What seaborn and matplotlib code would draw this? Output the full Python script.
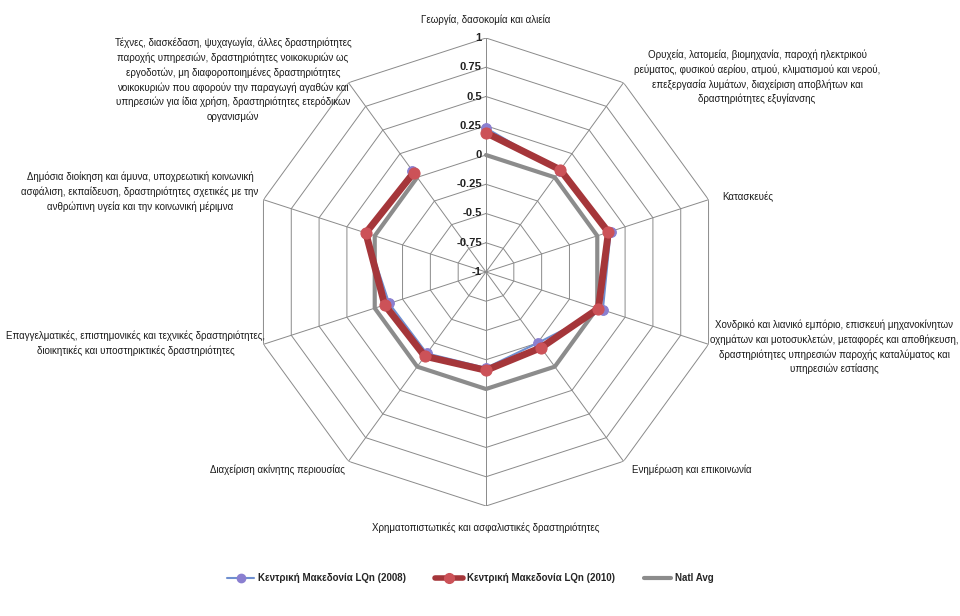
import numpy as np
import pandas as pd
import matplotlib
matplotlib.use('Agg')
import matplotlib.pyplot as plt
from matplotlib.lines import Line2D
import seaborn as sns

# κατηγορίες (ετικέτες των αξόνων) με τη σειρά του ρολογιού, από πάνω
categories = [
    'Γεωργία, δασοκομία και αλιεία',
    'Ορυχεία, λατομεία, βιομηχανία, παροχή ηλεκτρικού\nρεύματος, φυσικού αερίου, ατμού, κλιματισμού και νερού,\nεπεξεργασία λυμάτων, διαχείριση αποβλήτων και\nδραστηριότητες εξυγίανσης',
    'Κατασκευές',
    'Χονδρικό και λιανικό εμπόριο, επισκευή μηχανοκίνητων\nοχημάτων και μοτοσυκλετών, μεταφορές και αποθήκευση,\nδραστηριότητες υπηρεσιών παροχής καταλύματος και\nυπηρεσιών εστίασης',
    'Ενημέρωση και επικοινωνία',
    'Χρηματοπιστωτικές και ασφαλιστικές δραστηριότητες',
    'Διαχείριση ακίνητης περιουσίας',
    'Επαγγελματικές, επιστημονικές και τεχνικές δραστηριότητες,\nδιοικητικές και υποστηρικτικές δραστηριότητες',
    'Δημόσια διοίκηση και άμυνα, υποχρεωτική κοινωνική\nασφάλιση, εκπαίδευση, δραστηριότητες σχετικές με την\nανθρώπινη υγεία και την κοινωνική μέριμνα',
    'Τέχνες, διασκέδαση, ψυχαγωγία, άλλες δραστηριότητες\nπαροχής υπηρεσιών, δραστηριότητες νοικοκυριών ως\nεργοδοτών, μη διαφοροποιημένες δραστηριότητες\nνοικοκυριών που αφορούν την παραγωγή αγαθών και\nυπηρεσιών για ίδια χρήση, δραστηριότητες ετερόδικων\nοργανισμών',
]
lq_2008 = [0.23, 0.07, 0.12, 0.05, -0.25, -0.18, -0.14, -0.13, 0.08, 0.07]
lq_2010 = [0.19, 0.08, 0.10, 0.01, -0.20, -0.16, -0.11, -0.09, 0.08, 0.05]
natl_avg = [0, 0, 0, 0, 0, 0, 0, 0, 0, 0]
r_ticks = [-1, -0.75, -0.5, -0.25, 0, 0.25, 0.5, 0.75, 1]
series_names = ['Κεντρική Μακεδονία LQn (2008)', 'Κεντρική Μακεδονία LQn (2010)', 'Natl Avg']

sns.set_style('white')
plt.rcParams['font.family'] = ['Liberation Sans', 'DejaVu Sans']

n = len(categories)
theta = np.linspace(0, 2 * np.pi, n, endpoint=False)
theta_c = np.append(theta, theta[0])

# πίνακας για το seaborn (κλειστό πολύγωνο)
rows = []
for name, vals in zip(series_names, [lq_2008, lq_2010, natl_avg]):
    for t, v in zip(theta_c, vals + vals[:1]):
        rows.append({'theta': t, 'value': v, 'series': name})
df = pd.DataFrame(rows)

W, H = 960, 616
fig = plt.figure(figsize=(9.6, 6.16), dpi=100)
cx, cy, rad = 486, 272, 234
ax = fig.add_axes([(cx - rad) / W, 1 - (cy + rad) / H, 2 * rad / W, 2 * rad / H], polar=True)
ax.set_theta_zero_location('N')
ax.set_theta_direction(-1)
ax.set_ylim(-1, 1)
ax.grid(False)
ax.spines['polar'].set_visible(False)
ax.set_xticks([])
ax.set_yticks([])

# πολυγωνικό πλέγμα
grid_col = '#8a8a8a'
for r in r_ticks:
    ax.plot(theta_c, [r] * (n + 1), color=grid_col, lw=0.7, zorder=1)
for t in theta:
    ax.plot([t, t], [-1, 1], color=grid_col, lw=0.7, zorder=1)

# σειρές
sns.lineplot(data=df[df.series == series_names[2]], x='theta', y='value', sort=False,
             color='#8c8c8c', lw=3, ax=ax, legend=False, zorder=3)
sns.lineplot(data=df[df.series == series_names[0]], x='theta', y='value', sort=False,
             color='#6f8fd0', lw=1.5, marker='o', markersize=7, markerfacecolor='#8a7fd0',
             markeredgecolor='#8a7fd0', ax=ax, legend=False, zorder=4)
sns.lineplot(data=df[df.series == series_names[1]], x='theta', y='value', sort=False,
             color='#a5363a', lw=5, marker='o', markersize=8, markerfacecolor='#cc5258',
             markeredgecolor='#cc5258', ax=ax, legend=False, zorder=5)
ax.set_xlabel('')
ax.set_ylabel('')
ax.set_ylim(-1, 1)

# τιμές κλίμακας
for r in r_ticks:
    ax.annotate(f'{r:g}', xy=(0, r), xytext=(-3, 0), textcoords='offset points',
                ha='right', va='center', fontsize=8, fontweight='bold',
                color='#222222', zorder=6)

# ετικέτες κατηγοριών (θέσεις σε pixel)
label_pos = [(486, 20, 'center'), (757, 77, 'center'), (722, 197, 'left'),
             (834, 347, 'center'), (692, 470, 'center'), (486, 528, 'center'),
             (277, 470, 'center'), (136, 343, 'center'), (140, 192, 'center'),
             (233, 80, 'center')]
for txt, (px, py, ha) in zip(categories, label_pos):
    fig.text(px / W, 1 - py / H, txt, ha=ha, va='center', multialignment='center',
             fontsize=7, linespacing=1.5, color='#1a1a1a')

# υπόμνημα
handles = [
    Line2D([], [], color='#6f8fd0', lw=1.5, marker='o', markersize=6,
           markerfacecolor='#8a7fd0', markeredgecolor='#8a7fd0'),
    Line2D([], [], color='#a5363a', lw=4, marker='o', markersize=7,
           markerfacecolor='#cc5258', markeredgecolor='#cc5258'),
    Line2D([], [], color='#8c8c8c', lw=3),
]
fig.legend(handles, series_names, loc='center', bbox_to_anchor=(0.49, 1 - 578 / H),
           ncol=3, frameon=False, handlelength=2.8, columnspacing=3.0, handletextpad=0.4,
           prop={'size': 7, 'weight': 'bold'})

plt.savefig('out.png', dpi=100)
